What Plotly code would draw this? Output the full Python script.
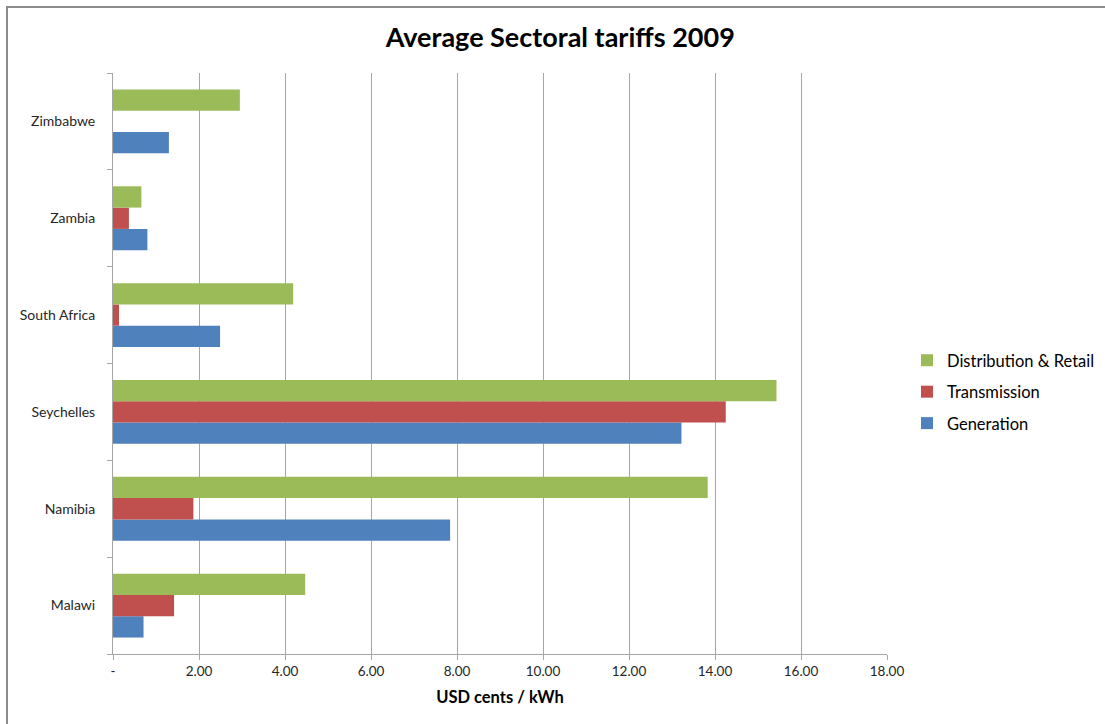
import plotly.graph_objects as go

countries = ["Malawi", "Namibia", "Seychelles", "South Africa", "Zambia", "Zimbabwe"]
generation = [0.71, 7.84, 13.22, 2.49, 0.80, 1.30]
transmission = [1.42, 1.87, 14.25, 0.14, 0.37, None]
distribution = [4.47, 13.83, 15.43, 4.19, 0.66, 2.95]

x_ticks = [0, 2, 4, 6, 8, 10, 12, 14, 16, 18]
x_tick_text = ["-", "2.00", "4.00", "6.00", "8.00", "10.00", "12.00", "14.00", "16.00", "18.00"]

# (name, values, colour, legend position)
series = [
    ("Generation", generation, "#4F81BD", 3),
    ("Transmission", transmission, "#C0504D", 2),
    ("Distribution & Retail", distribution, "#9BBB59", 1),
]

FONT = "Lato, 'Noto Sans', sans-serif"

fig = go.Figure()
for name, vals, color, rank in series:
    fig.add_trace(go.Bar(
        y=countries, x=vals, name=name, orientation="h",
        marker=dict(color=color, line=dict(width=0)),
        legendgroup=name, legendrank=rank,
    ))

W, H = 1105, 724
L, R, T, B = 113, 218, 73, 70
pw, ph = W - L - R, H - T - B

fig.update_layout(
    width=W, height=H,
    margin=dict(l=L, r=R, t=T, b=B, autoexpand=False),
    paper_bgcolor="white", plot_bgcolor="white",
    barmode="group", bargap=0.34, bargroupgap=0,
    font=dict(family=FONT, color="#262626"),
    title=dict(
        text="<b>Average Sectoral tariffs 2009</b>",
        x=0.507, xref="container", xanchor="center",
        y=1 - 38 / H, yref="container", yanchor="middle",
        font=dict(size=27, color="#000000", family=FONT),
    ),
    legend=dict(
        x=(907 - L) / pw, xanchor="left",
        y=(H - B - 392) / ph, yanchor="middle",
        traceorder="grouped",
        tracegroupgap=7,
        font=dict(size=16.5, color="#000000"),
        bgcolor="rgba(0,0,0,0)",
    ),
    xaxis=dict(
        range=[0, 18], tickvals=x_ticks, ticktext=x_tick_text,
        showgrid=True, gridcolor="#A6A6A6", gridwidth=1,
        showline=True, linecolor="#A6A6A6", linewidth=1,
        ticks="outside", ticklen=5, tickcolor="#A6A6A6",
        tickfont=dict(size=13.5, color="#262626"),
        zeroline=False,
        title=dict(text="<b>USD cents / kWh</b>", font=dict(size=16.5, color="#000000"), standoff=13),
    ),
    yaxis=dict(
        type="category", categoryorder="array", categoryarray=countries,
        showgrid=False, showline=True, linecolor="#A6A6A6", linewidth=1,
        ticks="outside", ticklen=5, tickcolor="#A6A6A6", tickson="boundaries",
        ticklabelstandoff=14,
        tickfont=dict(size=14, color="#262626"),
    ),
    shapes=[dict(
        type="rect", xref="paper", yref="paper",
        x0=(7 - L) / pw, x1=(W + 20 - L) / pw,
        y0=-(B + 20) / ph, y1=(H - B - 7) / ph,
        line=dict(color="#8C8C8C", width=2), fillcolor="rgba(0,0,0,0)",
        layer="below",
    )],
)

fig.write_html("out.html")
